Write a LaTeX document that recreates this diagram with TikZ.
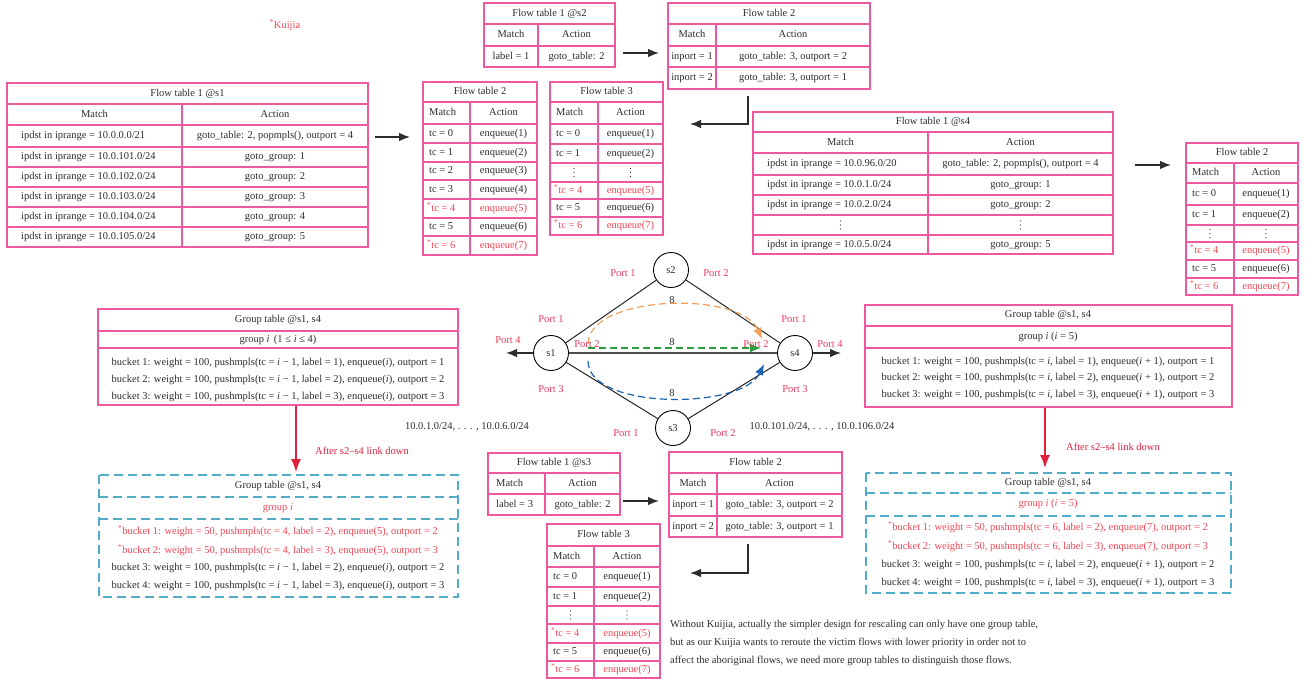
\documentclass[tikz,border=0pt]{standalone}
\usepackage{fontspec}
\setmainfont{Liberation Serif}
\usetikzlibrary{arrows.meta}
\definecolor{tpink}{RGB}{238,88,158}
\definecolor{kred}{RGB}{240,70,85}
\definecolor{pred}{RGB}{232,58,92}
\definecolor{ared}{RGB}{222,32,62}
\definecolor{dteal}{RGB}{82,172,200}
\definecolor{orng}{RGB}{240,160,90}
\definecolor{grn}{RGB}{40,160,60}
\definecolor{blu}{RGB}{30,100,180}
\definecolor{txt}{RGB}{45,45,45}
\newcommand\rd{\color{kred}\textsuperscript{*}}
\newcommand\ttitle[6]{\draw[tbl] (#2,#4) rectangle (#3,#5); \node[cell] (#1) at ({(#2+#3)/2},{(#4+#5)/2}) {#6};}
\newcommand\trowc[8]{\draw[tbl] (#2,#5) rectangle (#4,#6); \draw[tbl] (#3,#5) -- (#3,#6);
  \node[cell] (#1m) at ({(#2+#3)/2},{(#5+#6)/2}) {#7};
  \node[cell] (#1a) at ({(#3+#4)/2},{(#5+#6)/2}) {#8};}
\newcommand\trow[9]{\draw[tbl] (#2,#5) rectangle (#4,#6); \draw[tbl] (#3,#5) -- (#3,#6);
  \node[cell,anchor=west] (#1m) at ({#2+#7},{(#5+#6)/2}) {#8};
  \node[cell] (#1a) at ({(#3+#4)/2},{(#5+#6)/2}) {#9};}
% row of vertical dots: name x0 xm x1 ytop ybot
\newcommand\trowd[6]{\draw[tbl] (#2,#5) rectangle (#4,#6); \draw[tbl] (#3,#5) -- (#3,#6);
  \foreach \dy in {-4,0,4}{
    \fill[txt] ({(#2+#3)/2},{(#5+#6)/2+\dy}) circle (0.65pt);
    \fill[txt] ({(#3+#4)/2},{(#5+#6)/2+\dy}) circle (0.65pt);}}
\begin{document}
\begin{tikzpicture}[x=1pt,y=-1pt,
  font=\fontsize{10.5}{12.5}\selectfont,
  tbl/.style={draw=tpink, line width=1.2pt},
  dtbl/.style={draw=dteal, line width=1.3pt, dash pattern=on 9pt off 5pt},
  cell/.style={inner sep=0pt, text=txt, text height=7.3pt, text depth=2.1pt},
  arr/.style={draw=txt, line width=1.3pt, -{Latex[length=11pt,width=8.5pt]}},
  rarr/.style={draw=ared, line width=1.5pt, -{Latex[length=13pt,width=10pt]}},
  sw/.style={circle, draw=black, line width=0.9pt, minimum size=35pt, inner sep=0pt, text=txt},
  link/.style={draw=black!85, line width=1pt},
  port/.style={text=pred, inner sep=0pt},
  lbl/.style={text=txt, inner sep=0pt},
  flowd/.style={line width=1.2pt, dash pattern=on 7pt off 4pt},
  note/.style={text=txt, inner sep=0pt, anchor=west}]
\useasboundingbox (0,0) rectangle (1305,680);
\fill[white] (0,0) rectangle (1305,680);

\node[text=kred, inner sep=0pt] (kuijia) at (285,25) {\textsuperscript{*}Kuijia};

% Flow table 1 @s1
\ttitle{aT}{7}{368}{83}{104}{Flow table 1 @s1}
\trowc{aH}{7}{182}{368}{104}{125}{Match}{Action}
\trow{aA}{7}{182}{368}{125}{147}{14}{ipdst in iprange = 10.0.0.0/21}{goto\_table: 2, popmpls(), outport = 4}
\trow{aB}{7}{182}{368}{147}{167}{14}{ipdst in iprange = 10.0.101.0/24}{goto\_group: 1}
\trow{aC}{7}{182}{368}{167}{187}{14}{ipdst in iprange = 10.0.102.0/24}{goto\_group: 2}
\trow{aD}{7}{182}{368}{187}{207}{14}{ipdst in iprange = 10.0.103.0/24}{goto\_group: 3}
\trow{aE}{7}{182}{368}{207}{227}{14}{ipdst in iprange = 10.0.104.0/24}{goto\_group: 4}
\trow{aF}{7}{182}{368}{227}{247}{14}{ipdst in iprange = 10.0.105.0/24}{goto\_group: 5}

% Flow table 1 @s2
\ttitle{bT}{484}{615}{3}{24}{Flow table 1 @s2}
\trowc{bH}{484}{538}{615}{24}{46}{Match}{Action}
\trowc{bA}{484}{538}{615}{46}{67}{label = 1}{goto\_table: 2}

% Flow table 2 (s2)
\ttitle{cT}{668}{870}{3}{24}{Flow table 2}
\trowc{cH}{668}{716}{870}{24}{46}{Match}{Action}
\trowc{cA}{668}{716}{870}{46}{67}{inport = 1}{goto\_table: 3, outport = 2}
\trowc{cB}{668}{716}{870}{67}{89}{inport = 2}{goto\_table: 3, outport = 1}

% Flow table 2 (s1)
\ttitle{dT}{423}{537}{82}{102}{Flow table 2}
\trow{dH}{423}{470}{537}{102}{124}{6}{Match}{Action}
\trow{dA}{423}{470}{537}{124}{143}{6}{tc = 0}{enqueue(1)}
\trow{dB}{423}{470}{537}{143}{162}{6}{tc = 1}{enqueue(2)}
\trow{dC}{423}{470}{537}{162}{180}{6}{tc = 2}{enqueue(3)}
\trow{dD}{423}{470}{537}{180}{199}{6}{tc = 3}{enqueue(4)}
\trow{dE}{423}{470}{537}{199}{218}{4}{\rd tc = 4}{\color{kred}enqueue(5)}
\trow{dF}{423}{470}{537}{218}{236}{6}{tc = 5}{enqueue(6)}
\trow{dG}{423}{470}{537}{236}{255}{4}{\rd tc = 6}{\color{kred}enqueue(7)}

% Flow table 3 (s2)
\ttitle{eT}{550}{663}{82}{102}{Flow table 3}
\trow{eH}{550}{598}{663}{102}{124}{6}{Match}{Action}
\trow{eA}{550}{598}{663}{124}{144}{6}{tc = 0}{enqueue(1)}
\trow{eB}{550}{598}{663}{144}{163}{6}{tc = 1}{enqueue(2)}
\trowd{eC}{550}{598}{663}{163}{182}
\trow{eD}{550}{598}{663}{182}{199}{4}{\rd tc = 4}{\color{kred}enqueue(5)}
\trow{eE}{550}{598}{663}{199}{217}{6}{tc = 5}{enqueue(6)}
\trow{eF}{550}{598}{663}{217}{235}{4}{\rd tc = 6}{\color{kred}enqueue(7)}

% Flow table 1 @s4
\ttitle{fT}{753}{1113}{112}{132}{Flow table 1 @s4}
\trowc{fH}{753}{928}{1113}{132}{153}{Match}{Action}
\trow{fA}{753}{928}{1113}{153}{175}{14}{ipdst in iprange = 10.0.96.0/20}{goto\_table: 2, popmpls(), outport = 4}
\trow{fB}{753}{928}{1113}{175}{195}{14}{ipdst in iprange = 10.0.1.0/24}{goto\_group: 1}
\trow{fC}{753}{928}{1113}{195}{215}{14}{ipdst in iprange = 10.0.2.0/24}{goto\_group: 2}
\trowd{fD}{753}{928}{1113}{215}{235}
\trow{fE}{753}{928}{1113}{235}{254}{14}{ipdst in iprange = 10.0.5.0/24}{goto\_group: 5}

% Flow table 2 (s4)
\ttitle{gT}{1186}{1298}{143}{163}{Flow table 2}
\trow{gH}{1186}{1234}{1298}{163}{183}{6}{Match}{Action}
\trow{gA}{1186}{1234}{1298}{183}{205}{6}{tc = 0}{enqueue(1)}
\trow{gB}{1186}{1234}{1298}{205}{225}{6}{tc = 1}{enqueue(2)}
\trowd{gC}{1186}{1234}{1298}{225}{242}
\trow{gD}{1186}{1234}{1298}{242}{260}{4}{\rd tc = 4}{\color{kred}enqueue(5)}
\trow{gE}{1186}{1234}{1298}{260}{278}{6}{tc = 5}{enqueue(6)}
\trow{gF}{1186}{1234}{1298}{278}{295}{4}{\rd tc = 6}{\color{kred}enqueue(7)}

% Flow table 1 @s3
\ttitle{hT}{488}{620}{453}{473}{Flow table 1 @s3}
\trow{hH}{488}{545}{620}{473}{494}{8}{Match}{Action}
\trow{hA}{488}{545}{620}{494}{515}{8}{label = 3}{goto\_table: 2}

% Flow table 2 (s3)
\ttitle{iT}{669}{842}{452}{473}{Flow table 2}
\trowc{iH}{669}{717}{842}{473}{494}{Match}{Action}
\trowc{iA}{669}{717}{842}{494}{516}{inport = 1}{goto\_table: 3, outport = 2}
\trowc{iB}{669}{717}{842}{516}{537}{inport = 2}{goto\_table: 3, outport = 1}

% Flow table 3 (s3)
\ttitle{jT}{547}{660}{524}{546}{Flow table 3}
\trow{jH}{547}{594}{660}{546}{567}{6}{Match}{Action}
\trow{jA}{547}{594}{660}{567}{587}{6}{tc = 0}{enqueue(1)}
\trow{jB}{547}{594}{660}{587}{606}{6}{tc = 1}{enqueue(2)}
\trowd{jC}{547}{594}{660}{606}{624}
\trow{jD}{547}{594}{660}{624}{643}{4}{\rd tc = 4}{\color{kred}enqueue(5)}
\trow{jE}{547}{594}{660}{643}{661}{6}{tc = 5}{enqueue(6)}
\trow{jF}{547}{594}{660}{661}{678}{4}{\rd tc = 6}{\color{kred}enqueue(7)}

% Group table left (solid)
\draw[tbl] (98,309) rectangle (458,405);
\draw[tbl] (98,331) -- (458,331);
\draw[tbl] (98,348) -- (458,348);
\node[cell] (kT) at (278,320) {Group table @s1, s4};
\node[cell] (kG) at (278,340) {group \textit{i}\, (1 ≤ \textit{i} ≤ 4)};
\node[cell] (k1) at (278,363) {bucket 1: weight = 100, pushmpls(tc = \textit{i} − 1, label = 1), enqueue(\textit{i}), outport = 1};
\node[cell] (k2) at (278,380) {bucket 2: weight = 100, pushmpls(tc = \textit{i} − 1, label = 2), enqueue(\textit{i}), outport = 2};
\node[cell] (k3) at (278,397) {bucket 3: weight = 100, pushmpls(tc = \textit{i} − 1, label = 3), enqueue(\textit{i}), outport = 3};

% Group table left (dashed)
\draw[dtbl] (99,475) rectangle (458,597);
\draw[dtbl] (99,497) -- (458,497);
\draw[dtbl] (99,519) -- (458,519);
\node[cell] (lT) at (278,486) {Group table @s1, s4};
\node[cell,text=kred] (lG) at (278,508) {group \textit{i}};
\node[cell,text=kred] (l1) at (278,532) {\textsuperscript{*}bucket 1: weight = 50, pushmpls(tc = 4, label = 2), enqueue(5), outport = 2};
\node[cell,text=kred] (l2) at (278,551) {\textsuperscript{*}bucket 2: weight = 50, pushmpls(tc = 4, label = 3), enqueue(5), outport = 3};
\node[cell] (l3) at (278,568) {bucket 3: weight = 100, pushmpls(tc = \textit{i} − 1, label = 2), enqueue(\textit{i}), outport = 2};
\node[cell] (l4) at (278,586) {bucket 4: weight = 100, pushmpls(tc = \textit{i} − 1, label = 3), enqueue(\textit{i}), outport = 3};

% Group table right (solid)
\draw[tbl] (865,305) rectangle (1232,407);
\draw[tbl] (865,326) -- (1232,326);
\draw[tbl] (865,348) -- (1232,348);
\node[cell] (mT) at (1048,315) {Group table @s1, s4};
\node[cell] (mG) at (1048,337) {group \textit{i} (\textit{i} = 5)};
\node[cell] (m1) at (1048,362) {bucket 1: weight = 100, pushmpls(tc = \textit{i}, label = 1), enqueue(\textit{i} + 1), outport = 1};
\node[cell] (m2) at (1048,378) {bucket 2: weight = 100, pushmpls(tc = \textit{i}, label = 2), enqueue(\textit{i} + 1), outport = 2};
\node[cell] (m3) at (1048,395) {bucket 3: weight = 100, pushmpls(tc = \textit{i}, label = 3), enqueue(\textit{i} + 1), outport = 3};

% Group table right (dashed)
\draw[dtbl] (866,473) rectangle (1231,593);
\draw[dtbl] (866,493) -- (1231,493);
\draw[dtbl] (866,516) -- (1231,516);
\node[cell] (nT) at (1048,483) {Group table @s1, s4};
\node[cell,text=kred] (nG) at (1048,504) {group \textit{i} (\textit{i} = 5)};
\node[cell,text=kred] (n1) at (1048,528) {\textsuperscript{*}bucket 1: weight = 50, pushmpls(tc = 6, label = 2), enqueue(7), outport = 2};
\node[cell,text=kred] (n2) at (1048,547) {\textsuperscript{*}bucket 2: weight = 50, pushmpls(tc = 6, label = 3), enqueue(7), outport = 3};
\node[cell] (n3) at (1048,565) {bucket 3: weight = 100, pushmpls(tc = \textit{i}, label = 2), enqueue(\textit{i} + 1), outport = 2};
\node[cell] (n4) at (1048,583) {bucket 4: weight = 100, pushmpls(tc = \textit{i}, label = 3), enqueue(\textit{i} + 1), outport = 3};

% arrows between tables
\coordinate (a1s) at (375,137); \coordinate (a1e) at (410,137);
\draw[arr] (a1s) -- (a1e);
\coordinate (a2s) at (623,53); \coordinate (a2e) at (659,53);
\draw[arr] (a2s) -- (a2e);
\coordinate (a3s) at (748,96); \coordinate (a3e) at (690,124);
\draw[arr] (a3s) |- (a3e);
\coordinate (a4s) at (1135,165); \coordinate (a4e) at (1171,165);
\draw[arr] (a4s) -- (a4e);
\coordinate (a5s) at (623,501); \coordinate (a5e) at (659,501);
\draw[arr] (a5s) -- (a5e);
\coordinate (a6s) at (748,544); \coordinate (a6e) at (690,573);
\draw[arr] (a6s) |- (a6e);

% red arrows
\coordinate (r1s) at (296,406); \coordinate (r1e) at (296,472);
\draw[rarr] (r1s) -- (r1e);
\coordinate (r2s) at (1045,408); \coordinate (r2e) at (1045,468);
\draw[rarr] (r2s) -- (r2e);
\node[text=ared, inner sep=0pt] (down1) at (362,451) {After s2–s4 link down};
\node[text=ared, inner sep=0pt] (down2) at (1113,447) {After s2–s4 link down};

% network
\node[sw] (s1) at (551,353) {s1};
\node[sw] (s2) at (671,270) {s2};
\node[sw] (s3) at (673,428) {s3};
\node[sw] (s4) at (795,353) {s4};
\draw[link] (s1) -- (s2);
\draw[link] (s2) -- (s4);
\draw[link] (s1) -- (s3);
\draw[link] (s3) -- (s4);
\draw[draw=black!70, line width=2pt] (s1) -- (s4);
\coordinate (outl) at (506,353);
\coordinate (outr) at (841,353);
\draw[arr] (s1) -- (outl);
\draw[arr] (s4) -- (outr);

\coordinate (oS) at (588,344); \coordinate (oE) at (762,339);
\draw[flowd, draw=orng, -{Latex[length=11pt,width=9pt,fill=orng]}] (oS) .. controls (588,295) and (740,290) .. (oE);
\coordinate (gS) at (588,348); \coordinate (gE) at (761,348);
\draw[flowd, draw=grn, -{Latex[length=11pt,width=9pt,fill=grn]}] (gS) -- (gE);
\coordinate (bS) at (588,361); \coordinate (bE) at (764,364);
\draw[flowd, draw=blu, -{Latex[length=11pt,width=9pt,fill=blu]}] (bS) .. controls (588,410) and (742,410) .. (bE);
\node[lbl] (w1) at (672,300) {8};
\node[lbl] (w2) at (672,342) {8};
\node[lbl] (w3) at (672,393) {8};

\node[port] (p21) at (623,273) {Port 1};
\node[port] (p22) at (716,273) {Port 2};
\node[port] (p11) at (551,319) {Port 1};
\node[port] (p14) at (508,340) {Port 4};
\node[port] (p12) at (587,344) {Port 2};
\node[port] (p13) at (551,389) {Port 3};
\node[port] (p41) at (794,319) {Port 1};
\node[port] (p42) at (756,344) {Port 2};
\node[port] (p44) at (830,344) {Port 4};
\node[port] (p43) at (795,389) {Port 3};
\node[port] (p31) at (626,433) {Port 1};
\node[port] (p32) at (723,433) {Port 2};

\node[lbl] (ipl) at (467,427) {10.0.1.0/24, . . . , 10.0.6.0/24};
\node[lbl] (ipr) at (822,427) {10.0.101.0/24, . . . , 10.0.106.0/24};

% note
\node[note] (t1) at (670,625) {Without Kuijia, actually the simpler design for rescaling can only have one group table,};
\node[note] (t2) at (670,643) {but as our Kuijia wants to reroute the victim flows with lower priority in order not to};
\node[note] (t3) at (670,661) {affect the aboriginal flows, we need more group tables to distinguish those flows.};
\end{tikzpicture}
\end{document}
